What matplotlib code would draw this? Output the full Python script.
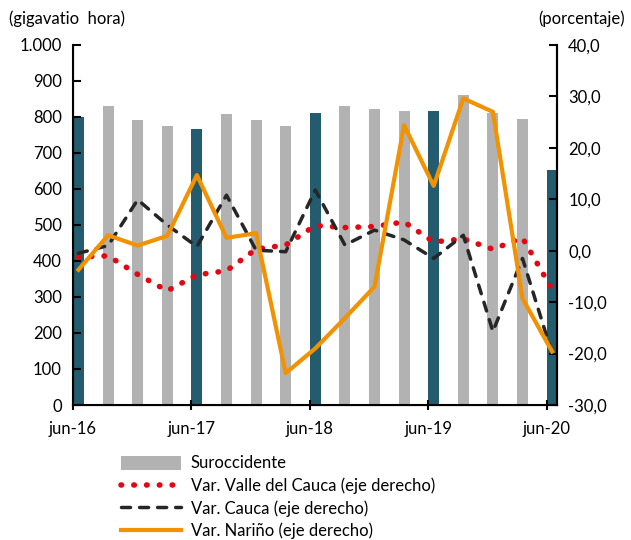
import numpy as np
import matplotlib.pyplot as plt
from matplotlib.patches import Patch
from matplotlib.lines import Line2D

plt.rcParams['font.family'] = ['Lato', 'DejaVu Sans']

quarters = ["jun-16", "sep-16", "dec-16", "mar-17", "jun-17", "sep-17", "dec-17", "mar-18",
            "jun-18", "sep-18", "dec-18", "mar-19", "jun-19", "sep-19", "dec-19", "mar-20", "jun-20"]
suroccidente = [800, 830, 793, 775, 768, 809, 793, 775, 811, 830, 821, 817, 817, 860, 811, 794, 653]
var_valle = [-1.2, -1.0, -4.6, -7.8, -4.7, -3.9, 0.3, 1.1, 4.9, 4.5, 4.7, 5.6, 1.7, 2.3, 0.3, 2.5, -7.5]
var_cauca = [-0.5, 1.0, 9.9, 5.0, 0.8, 10.8, 0.1, -0.2, 11.8, 1.1, 4.0, 2.1, -1.5, 3.0, -15.7, -1.5, -20.0]
var_narino = [-3.7, 3.0, 1.0, 2.9, 14.7, 2.5, 3.4, -23.8, -19.0, -13.1, -7.0, 24.4, 12.6, 29.6, 27.0, -9.3, -19.6]

grey = "#b2b2b2"
dark = "#235c6f"
orange = "#f39200"
red = "#e30613"
fs = 12

x = np.arange(len(quarters))
bar_w = 0.37
colors = [dark if q.startswith("jun") else grey for q in quarters]

fig = plt.figure(figsize=(6.31, 5.4), dpi=100)
ax = fig.add_axes([0.1157, 0.25, 0.767, 0.6667])
ax.bar(x, suroccidente, width=bar_w, align="edge", color=colors, zorder=1)
ax.set_ylim(0, 1000)
ax.set_xlim(0, 16.35)
ax.set_yticks(np.arange(0, 1001, 100))
ax.set_yticklabels(["0"] + [f"{v:,}".replace(",", ".") for v in range(100, 1001, 100)])
ax.set_xticks(x[::4])
ax.set_xticklabels(quarters[::4])
ax.spines["top"].set_visible(False)
for s in ["left", "bottom", "right"]:
    ax.spines[s].set_linewidth(1.5)
ax.tick_params(axis="y", direction="in", length=6, width=1.5, labelsize=fs, pad=8)
ax.tick_params(axis="x", direction="inout", length=7, width=1.5, labelsize=fs, pad=8)

ax2 = ax.twinx()
ax2.set_ylim(-30, 40)
ax2.set_yticks(np.arange(-30, 41, 10))
ax2.set_yticklabels([f"{v:.1f}".replace(".", ",") for v in range(-30, 41, 10)])
ax2.spines["top"].set_visible(False)
ax2.spines["right"].set_linewidth(1.5)
ax2.tick_params(axis="y", direction="in", length=6, width=1.5, labelsize=fs, pad=8)

xc = x + bar_w / 2
valle_style = dict(color=red, linestyle=(0, (0.1, 2.2)), linewidth=4, dash_capstyle="round")
cauca_style = dict(color="#262626", linestyle=(0, (2.6, 2.6)), linewidth=2.5, dash_capstyle="round")
narino_style = dict(color=orange, linewidth=3)
ax2.plot(xc, var_valle, zorder=3, **valle_style)
ax2.plot(xc, var_cauca, zorder=3, **cauca_style)
ax2.plot(xc, var_narino, zorder=4, **narino_style)

fig.text(0.015, 0.965, "(gigavatio  hora)", fontsize=fs, va="center")
fig.text(0.99, 0.965, "(porcentaje)", fontsize=fs, va="center", ha="right")

handles = [
    Patch(facecolor=grey, edgecolor="none"),
    Line2D([], [], **valle_style),
    Line2D([], [], **cauca_style),
    Line2D([], [], **narino_style),
]
labels = ["Suroccidente", "Var. Valle del Cauca (eje derecho)",
          "Var. Cauca (eje derecho)", "Var. Nariño (eje derecho)"]
fig.legend(handles, labels, loc="upper left", bbox_to_anchor=(0.178, 0.172),
           frameon=False, fontsize=fs, handlelength=3.6, handleheight=0.9,
           labelspacing=0.36, borderpad=0, handletextpad=0.6)

fig.savefig("out.png", dpi=100)
